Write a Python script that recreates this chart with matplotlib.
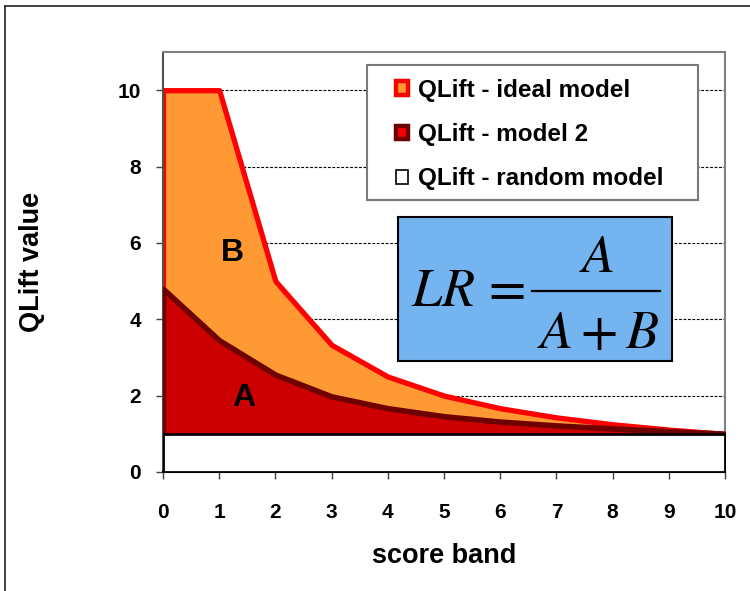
import matplotlib.pyplot as plt
from matplotlib.patches import Patch, Rectangle
from matplotlib.lines import Line2D

plt.rcParams["font.family"] = ["Liberation Sans", "DejaVu Sans"]
plt.rcParams["mathtext.fontset"] = "stix"

# score bands and QLift values per band
score_band = [0, 1, 2, 3, 4, 5, 6, 7, 8, 9, 10]
qlift_ideal = [10, 10, 5, 3.33, 2.5, 2, 1.67, 1.43, 1.25, 1.11, 1.0]
qlift_model2 = [4.8, 3.45, 2.55, 1.98, 1.67, 1.46, 1.32, 1.22, 1.14, 1.07, 1.0]
qlift_random = [1, 1, 1, 1, 1, 1, 1, 1, 1, 1, 1]

series_names = ["QLift - ideal model", "QLift - model 2", "QLift - random model"]

W, H = 750, 591


def px(x, y):
    # pixel position (from top left) -> figure fraction
    return x / W, 1 - y / H


fig = plt.figure(figsize=(W / 100, H / 100), dpi=100)
ax = fig.add_axes([0.2173, 0.2014, 0.7494, 0.7106])

# outer chart frame (left and top edges only show)
fig.add_artist(Line2D([0.007, 0.007], [0.0, 0.99], color="#222222", lw=1.2))
fig.add_artist(Line2D([0.007, 1.0], [0.99, 0.99], color="#222222", lw=1.2))

ax.set_xlim(0, 10)
ax.set_ylim(0, 11)
ax.set_xticks(score_band)
ax.set_yticks([0, 2, 4, 6, 8, 10])
ax.yaxis.grid(True, color="black", linestyle=(0, (2.5, 1.5)), linewidth=0.8)
ax.set_axisbelow(True)

# overlapping areas, ideal at the back
ax.fill_between(score_band, 0, qlift_ideal, facecolor="#FF9933",
                edgecolor="#FF0000", linewidth=3.8, zorder=2)
ax.fill_between(score_band, 0, qlift_model2, facecolor="#CC0000",
                edgecolor="#6E0000", linewidth=4.0, zorder=3)
ax.fill_between(score_band, 0, qlift_random, facecolor="white",
                edgecolor="black", linewidth=2.0, zorder=4)

ax.text(1.23, 5.74, "B", fontsize=23, fontweight="bold", ha="center", va="center", zorder=6)
ax.text(1.44, 1.93, "A", fontsize=23, fontweight="bold", ha="center", va="center", zorder=6)

for side in ["top", "right"]:
    ax.spines[side].set_color("#808080")
    ax.spines[side].set_linewidth(1.5)
ax.spines["left"].set_color("#505050")
ax.spines["left"].set_linewidth(1.5)
ax.spines["bottom"].set_color("black")
ax.spines["bottom"].set_linewidth(1.5)

ax.tick_params(axis="both", direction="out", width=1, colors="#404040",
               labelcolor="black", labelsize=15)
ax.tick_params(axis="y", length=5, pad=11)
ax.tick_params(axis="x", length=5, pad=17)
for lbl in ax.get_xticklabels() + ax.get_yticklabels():
    lbl.set_fontweight("bold")

ax.set_xlabel("score band", fontsize=19.5, fontweight="bold")
ax.set_ylabel("QLift value", fontsize=19.5, fontweight="bold")
ax.xaxis.set_label_coords(0.5, -0.17)
ax.yaxis.set_label_coords(-0.21, 0.5)

# legend box
legend_frame = Rectangle(px(367, 200), 331 / W, 135 / H, transform=fig.transFigure,
                         facecolor="white", edgecolor="#7a7a7a", linewidth=1.5,
                         zorder=7, clip_on=False)
ax.add_patch(legend_frame)
handles = [
    Patch(facecolor="#FF9933", edgecolor="#FF0000", linewidth=3.2),
    Patch(facecolor="#FF0000", edgecolor="#6E0000", linewidth=3.2),
    Patch(facecolor="white", edgecolor="black", linewidth=1.2),
]
leg = ax.legend(handles, series_names, loc="upper left",
                bbox_to_anchor=px(396, 79), bbox_transform=fig.transFigure,
                frameon=False, fontsize=17.5, labelspacing=0.87,
                handlelength=0.5, handleheight=0.5, handletextpad=0.4,
                borderpad=0, borderaxespad=0)
leg.set_zorder(8)
for t in leg.get_texts():
    t.set_fontweight("bold")

# formula box
formula_box = Rectangle(px(398, 361), 274 / W, 144 / H, transform=fig.transFigure,
                        facecolor="#74B4F0", edgecolor="black", linewidth=1.5,
                        zorder=7, clip_on=False)
ax.add_patch(formula_box)
fsize = 39
fig.text(*px(443, 306), r"$LR$", fontsize=fsize, ha="center", va="baseline", zorder=9)
fig.text(*px(503, 290), r"$=$", fontsize=fsize, ha="center", va="center", zorder=9)
fig.text(*px(597, 272), r"$A$", fontsize=fsize, ha="center", va="baseline", zorder=9)
fig.text(*px(598, 348), r"$A+B$", fontsize=fsize, ha="center", va="baseline", zorder=9)
x0, yb = px(532, 291)
x1, _ = px(660, 291)
fig.add_artist(Line2D([x0, x1], [yb, yb], color="black", lw=1.6, zorder=9))

fig.savefig("out.png", dpi=100)
